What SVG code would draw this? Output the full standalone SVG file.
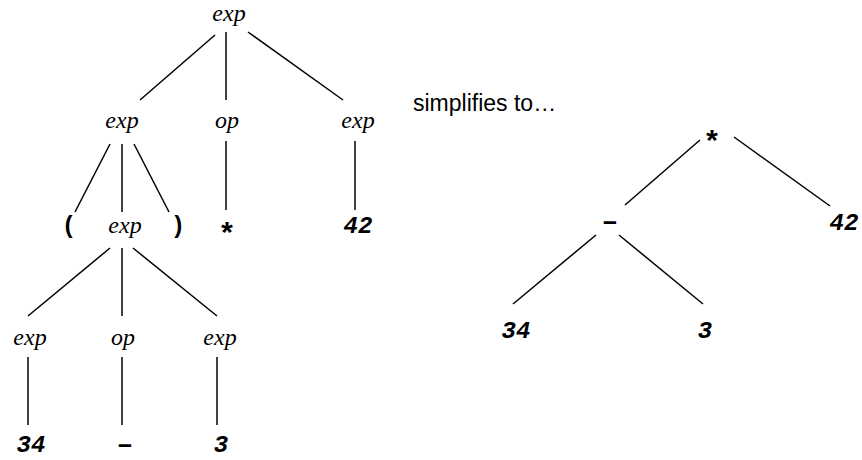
<svg xmlns="http://www.w3.org/2000/svg" width="862" height="460" viewBox="0 0 862 460">
<style>
.nt{font-family:"Liberation Serif",serif;font-style:italic;font-size:24px;fill:#000;text-anchor:middle}
.tk{font-family:"Liberation Mono",monospace;font-weight:bold;font-style:italic;font-size:24px;fill:#000;text-anchor:middle}
.pt{font-family:"Liberation Mono",monospace;font-weight:bold;font-size:24px;fill:#000;text-anchor:middle}
.st{font-family:"Liberation Mono",monospace;font-weight:bold;font-size:30px;fill:#000;text-anchor:middle}
.mn{font-family:"Liberation Mono",monospace;font-weight:bold;font-size:28px;fill:#000;text-anchor:middle}
.lbl{font-family:"Liberation Sans",sans-serif;font-size:23px;fill:#000}
.e line{stroke:#000;stroke-width:1.5}
</style>
<rect width="862" height="460" fill="#fff"/>
<g class="e" id="connectors">
<line x1="215" y1="35" x2="140" y2="100"/>
<line x1="226" y1="32" x2="226" y2="100"/>
<line x1="248" y1="32" x2="343" y2="100"/>
<line x1="110" y1="144" x2="75" y2="212"/>
<line x1="122" y1="144" x2="122" y2="212"/>
<line x1="134" y1="144" x2="169" y2="212"/>
<line x1="226" y1="141" x2="226" y2="210"/>
<line x1="355" y1="141" x2="355" y2="210"/>
<line x1="110" y1="248" x2="28" y2="316"/>
<line x1="122" y1="248" x2="122" y2="316"/>
<line x1="133" y1="248" x2="217" y2="316"/>
<line x1="28" y1="357" x2="28" y2="425"/>
<line x1="122" y1="357" x2="122" y2="425"/>
<line x1="217" y1="357" x2="217" y2="425"/>
<line x1="700" y1="140" x2="625" y2="205"/>
<line x1="734" y1="137" x2="830" y2="206"/>
<line x1="596" y1="235" x2="513" y2="304"/>
<line x1="619" y1="235" x2="703" y2="304"/>
</g>
<g id="n-root"><text class="nt" x="229" y="21">exp</text></g>
<g id="n-exp-l"><text class="nt" x="122" y="128">exp</text></g>
<g id="n-op-1"><text class="nt" x="227" y="128">op</text></g>
<g id="n-exp-r"><text class="nt" x="358" y="128">exp</text></g>
<g id="n-lparen"><text class="pt" x="69" y="233">(</text></g>
<g id="n-exp-m"><text class="nt" x="125" y="233">exp</text></g>
<g id="n-rparen"><text class="pt" x="178" y="233">)</text></g>
<g id="n-star"><text class="st" x="227" y="244">*</text></g>
<g id="n-42"><text class="tk" x="358" y="233">42</text></g>
<g id="n-exp-a"><text class="nt" x="30" y="345">exp</text></g>
<g id="n-op-2"><text class="nt" x="123" y="345">op</text></g>
<g id="n-exp-b"><text class="nt" x="220" y="345">exp</text></g>
<g id="n-34"><text class="tk" x="31" y="452">34</text></g>
<g id="n-minus"><text class="mn" x="125" y="453">–</text></g>
<g id="n-3"><text class="tk" x="221" y="452">3</text></g>
<g id="label"><text class="lbl" x="413" y="111">simplifies to…</text></g>
<g id="s-star"><text class="st" x="712" y="152">*</text></g>
<g id="s-minus"><text class="mn" x="610" y="230">–</text></g>
<g id="s-42"><text class="tk" x="844" y="230">42</text></g>
<g id="s-34"><text class="tk" x="516" y="338">34</text></g>
<g id="s-3"><text class="tk" x="705" y="338">3</text></g>
</svg>
